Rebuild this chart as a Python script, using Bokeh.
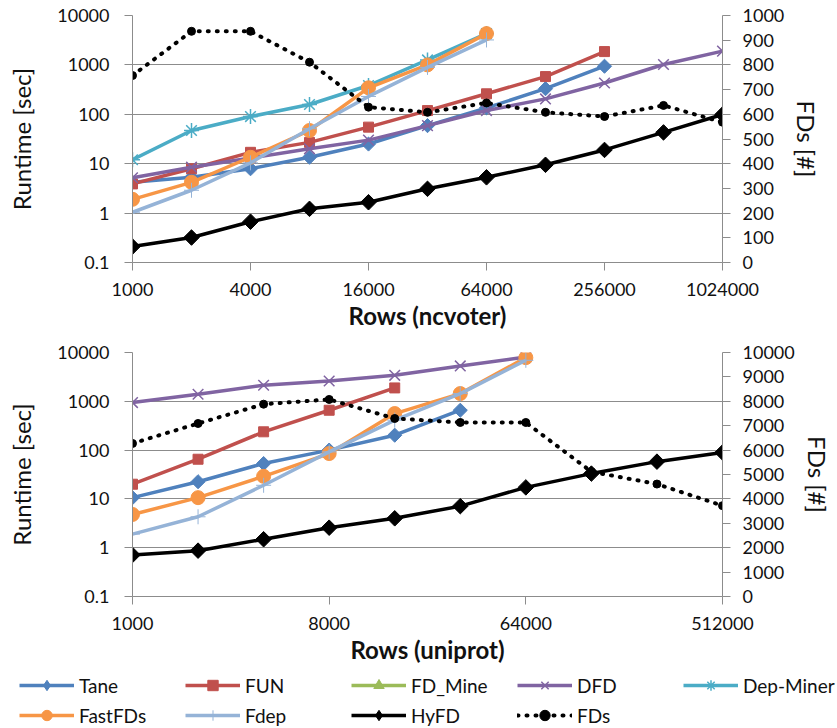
import numpy as np
from bokeh.plotting import figure
from bokeh.models import (Range1d, LinearAxis, LinearScale, FixedTicker,
                          CustomJSTickFormatter, Legend, LegendItem, ColumnDataSource)
from bokeh.layouts import column
from bokeh.embed import file_html
from bokeh.resources import INLINE

# ---------------- data ----------------
series_names = ["Tane", "FUN", "FD_Mine", "DFD", "Dep-Miner", "FastFDs", "Fdep", "HyFD"]

# ncvoter (top panel)
rows_ncvoter = [1000, 2000, 4000, 8000, 16000, 32000, 64000, 128000, 256000, 512000, 1024000]
xticks_ncvoter = [1000, 4000, 16000, 64000, 256000, 1024000]
tane_ncvoter = [4.2, 5.3, 7.9, 13.5, 25, 59, 135, 330, 940]
fun_ncvoter = [3.9, 7.9, 17, 27, 55, 119, 260, 580, 1860]
fdmine_ncvoter = [None]          # no measured result
dfd_ncvoter = [5.2, 8.5, 13, 20, 30, 59, 119, 205, 430, 1020, 1900]
depminer_ncvoter = [12, 47, 90, 158, 383, 1260, 4300]
fastfds_ncvoter = [1.9, 4.2, 13.5, 47, 344, 1000, 4300]
fdep_ncvoter = [1.04, 2.9, 10.4, 51, 230, 890, 3200]
hyfd_ncvoter = [0.21, 0.32, 0.67, 1.22, 1.66, 3.1, 5.3, 9.5, 19, 43, 99]
fds_ncvoter = [757, 936, 936, 811, 629, 608, 646, 608, 591, 636, 568]
fds_ticks_ncvoter = [0, 100, 200, 300, 400, 500, 600, 700, 800, 900, 1000]

# uniprot (bottom panel)
rows_uniprot = [1000, 2000, 4000, 8000, 16000, 32000, 64000, 128000, 256000, 512000]
xticks_uniprot = [1000, 8000, 64000, 512000]
tane_uniprot = [10.6, 22.5, 53, 100, 202, 656]
fun_uniprot = [20, 65, 237, 656, 1880]
fdmine_uniprot = [None]          # no measured result
dfd_uniprot = [942, 1395, 2130, 2610, 3410, 5300, 8090]
depminer_uniprot = [None]        # no measured result
fastfds_uniprot = [4.8, 10.6, 29, 85, 561, 1440, 7840]
fdep_uniprot = [1.9, 4.3, 19, 92, 410, 1440, 6920]
hyfd_uniprot = [0.71, 0.87, 1.49, 2.57, 4.0, 7.1, 17.2, 33, 58, 89.5]
fds_uniprot = [6273, 7091, 7882, 8076, 7296, 7132, 7132, 5114, 4609, 3723]
fds_ticks_uniprot = [0, 1000, 2000, 3000, 4000, 5000, 6000, 7000, 8000, 9000, 10000]

runtime_ticks = [0.1, 1, 10, 100, 1000, 10000]

# ---------------- style ----------------
FONT = "Lato"
GRID = "#8c8c8c"
TXT = "#111111"
STYLE = {
    "Tane":      dict(color="#4F81BD", marker="square",   size=10, angle=np.pi / 4, mlw=1, leg="diamond"),
    "FUN":       dict(color="#C0504D", marker="square",   size=10, angle=0.0, mlw=1, leg="square"),
    "FD_Mine":   dict(color="#9BBB59", marker="triangle", size=12, angle=0.0, mlw=1, leg="triangle"),
    "DFD":       dict(color="#8064A2", marker="x",        size=15, angle=0.0, mlw=1.5, leg="x"),
    "Dep-Miner": dict(color="#4BACC6", marker="asterisk", size=15, angle=0.0, mlw=1.5, leg="asterisk"),
    "FastFDs":   dict(color="#F79646", marker="circle",   size=14, angle=0.0, mlw=1, leg="circle"),
    "Fdep":      dict(color="#95B3D7", marker="cross",    size=15, angle=0.0, mlw=1, leg="cross"),
    "HyFD":      dict(color="#000000", marker="square",   size=11, angle=np.pi / 4, mlw=1, leg="diamond"),
}
LW = 3.5

legend_sources = {}


def add_series(p, name, xs, ys):
    st = STYLE[name]
    src = ColumnDataSource(dict(x=list(xs[:len(ys)]), y=[np.nan if v is None else v for v in ys]))
    p.line("x", "y", source=src, line_color=st["color"], line_width=LW)
    p.scatter("x", "y", source=src, marker=st["marker"], size=st["size"],
              angle=st["angle"], fill_color=st["color"], line_color=st["color"],
              line_width=st["mlw"])
    legend_sources[name] = src


def add_fds(p, xs, ys, range_name):
    src = ColumnDataSource(dict(x=list(xs), y=list(ys)))
    p.line("x", "y", source=src, line_color="black", line_width=4,
           line_dash="1 8", line_cap="round", y_range_name=range_name)
    p.scatter("x", "y", source=src, marker="circle", size=8,
              fill_color="black", line_color="black", y_range_name=range_name)
    legend_sources["FDs"] = src


def make_panel(rows, xticks, data, fds, fds_ticks, xlabel, frame_h, top, bottom):
    p = figure(frame_width=590, frame_height=frame_h,
               x_axis_type="log", y_axis_type="log",
               x_range=Range1d(rows[0], rows[-1]),
               y_range=Range1d(runtime_ticks[0], runtime_ticks[-1]),
               toolbar_location=None, output_backend="svg",
               min_border_left=132, min_border_top=top, min_border_bottom=bottom,
               min_border_right=0, outline_line_color=None,
               background_fill_color="white", border_fill_color="white")
    p.extra_y_ranges = {"fds": Range1d(fds_ticks[0], fds_ticks[-1])}
    p.extra_y_scales = {"fds": LinearScale()}

    p.xgrid.visible = False
    p.ygrid.grid_line_color = GRID
    p.ygrid.grid_line_width = 1

    ya = p.yaxis[0]
    ya.ticker = FixedTicker(ticks=runtime_ticks, minor_ticks=[])
    ya.formatter = CustomJSTickFormatter(code="return tick < 1 ? tick.toFixed(1) : tick.toFixed(0);")
    ya.axis_label = "Runtime [sec]"
    ya.axis_label_standoff = 18
    ya.major_label_standoff = 15

    xa = p.xaxis[0]
    xa.ticker = FixedTicker(ticks=xticks, minor_ticks=[])
    xa.formatter = CustomJSTickFormatter(code="return tick.toFixed(0);")
    xa.axis_label = xlabel
    xa.axis_label_standoff = 2
    xa.major_label_standoff = 12

    ra = LinearAxis(y_range_name="fds", ticker=FixedTicker(ticks=fds_ticks, minor_ticks=[]),
                    axis_label="FDs [#]")
    ra.axis_label_standoff = 5
    ra.major_label_standoff = 12
    p.add_layout(ra, "right")

    for ax in [ya, xa, ra]:
        ax.axis_line_color = GRID
        ax.major_tick_line_color = GRID
        ax.minor_tick_line_color = None
        ax.major_tick_in = 0
        ax.major_tick_out = 8
        ax.major_label_text_font = FONT
        ax.major_label_text_font_size = "18px"
        ax.major_label_text_color = TXT
        ax.axis_label_text_font = FONT
        ax.axis_label_text_font_size = "24px"
        ax.axis_label_text_color = TXT
    xa.axis_label_text_font_style = "bold"
    ya.axis_label_text_font_style = "normal"
    ra.axis_label_text_font_style = "normal"

    for name in series_names:
        add_series(p, name, rows, data[name])
    add_fds(p, rows, fds, "fds")
    return p


p1 = make_panel(rows_ncvoter, xticks_ncvoter,
                {"Tane": tane_ncvoter, "FUN": fun_ncvoter, "FD_Mine": fdmine_ncvoter,
                 "DFD": dfd_ncvoter, "Dep-Miner": depminer_ncvoter, "FastFDs": fastfds_ncvoter,
                 "Fdep": fdep_ncvoter, "HyFD": hyfd_ncvoter},
                fds_ncvoter, fds_ticks_ncvoter, "Rows (ncvoter)", 247, 15, 78)

p2 = make_panel(rows_uniprot, xticks_uniprot,
                {"Tane": tane_uniprot, "FUN": fun_uniprot, "FD_Mine": fdmine_uniprot,
                 "DFD": dfd_uniprot, "Dep-Miner": depminer_uniprot, "FastFDs": fastfds_uniprot,
                 "Fdep": fdep_uniprot, "HyFD": hyfd_uniprot},
                fds_uniprot, fds_ticks_uniprot, "Rows (uniprot)", 244, 12, 76)

# ---------------- legend (own strip; its ranges keep the shared data out of view) ----------------
leg = figure(width=837, height=56, x_range=Range1d(0, 1), y_range=Range1d(0, 1),
             toolbar_location=None, output_backend="svg", min_border=0,
             outline_line_color=None, x_axis_location=None, y_axis_location=None)
leg.grid.visible = False
items = []
for name in series_names:
    st = STYLE[name]
    src = legend_sources[name]
    r1 = leg.line("x", "y", source=src, line_color=st["color"], line_width=LW)
    r2 = leg.scatter("x", "y", source=src, marker=st["leg"],
                     fill_color=st["color"], line_color=st["color"], line_width=st["mlw"])
    items.append(LegendItem(label=name, renderers=[r1, r2]))
src = legend_sources["FDs"]
r1 = leg.line("x", "y", source=src, line_color="black", line_width=4, line_dash="1 8", line_cap="round")
r2 = leg.scatter("x", "y", source=src, marker="circle", fill_color="black", line_color="black")
items.append(LegendItem(label="FDs", renderers=[r1, r2]))

legend = Legend(items=items, ncols=5, orientation="horizontal", location=(19, 0),
                glyph_width=55, glyph_height=26, label_standoff=5, label_width=102,
                label_height=26, spacing=4, padding=0, margin=0,
                border_line_color=None, background_fill_alpha=0,
                label_text_font=FONT, label_text_font_size="19px", label_text_color=TXT)
leg.add_layout(legend)

layout = column(column(p1, p2, spacing=0), leg, spacing=0)
open("out.html", "w").write(file_html(layout, INLINE))
